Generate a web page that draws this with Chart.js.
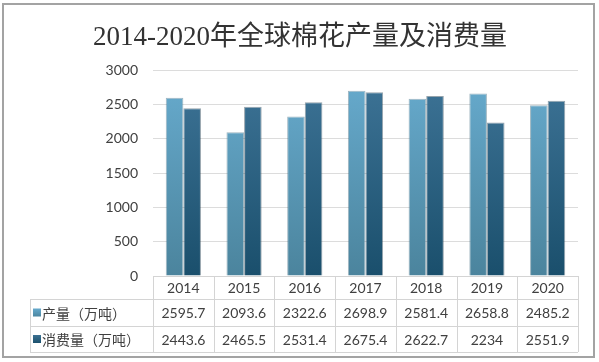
<!DOCTYPE html>
<html>
<head>
<meta charset="utf-8">
<script src="https://cdn.jsdelivr.net/npm/chart.js@4/dist/chart.umd.min.js"></script>
<style>
    body { margin: 0; background: #fff; }
    canvas { display: block; }
</style>
</head>
<body>
<canvas id="cottonChart" width="599" height="362"></canvas>
<script>
// data
const years = ["2014", "2015", "2016", "2017", "2018", "2019", "2020"];
const production = [2595.7, 2093.6, 2322.6, 2698.9, 2581.4, 2658.8, 2485.2];
const consumption = [2443.6, 2465.5, 2531.4, 2675.4, 2622.7, 2234, 2551.9];
const seriesNames = ["产量（万吨）", "消费量（万吨）"];
const yMax = 3000;
const yStep = 500;
const chartTitle = "2014-2020年全球棉花产量及消费量";

const textColor = "#404040";
const lineColor = "#d4d4d4";
const numFont = "Lato";

// vertical gradient for the bars
function barGradient(ctx, top, bottom) {
    const chart = ctx.chart;
    const area = chart.chartArea;
    if (!area) return top;
    const g = chart.ctx.createLinearGradient(0, area.top, 0, area.bottom);
    g.addColorStop(0, top);
    g.addColorStop(1, bottom);
    return g;
}

// title, outer frame and the data table under the bars
const tablePlugin = {
    id: "tablePlugin",
    afterDraw(chart) {
        const ctx = chart.ctx;
        const area = chart.chartArea;
        const n = years.length;
        const colW = (area.right - area.left) / n;
        const tableLeft = 30;
        const y0 = area.bottom;
        const y1 = y0 + 23;
        const y2 = y1 + 27;
        const y3 = y2 + 26;

        ctx.save();

        // outer frame
        ctx.strokeStyle = "#a3a3a3";
        ctx.lineWidth = 2;
        ctx.strokeRect(3, 4, 591, 353);

        // title
        ctx.fillStyle = "#333";
        ctx.font = "27px 'Liberation Serif', 'Noto Sans CJK SC', serif";
        ctx.textAlign = "center";
        ctx.textBaseline = "middle";
        ctx.fillText(chartTitle, 300, 38);

        // table lines
        ctx.strokeStyle = lineColor;
        ctx.lineWidth = 1;
        ctx.beginPath();
        ctx.moveTo(area.left, y0 + 0.5);
        ctx.lineTo(area.right, y0 + 0.5);
        [y1, y2, y3].forEach((y) => {
            ctx.moveTo(tableLeft, y + 0.5);
            ctx.lineTo(area.right, y + 0.5);
        });
        ctx.moveTo(tableLeft + 0.5, y1);
        ctx.lineTo(tableLeft + 0.5, y3);
        for (let i = 0; i <= n; i++) {
            const x = Math.round(area.left + i * colW) + 0.5;
            ctx.moveTo(x, y0);
            ctx.lineTo(x, y3);
        }
        ctx.stroke();

        // years and values
        ctx.fillStyle = textColor;
        ctx.font = "14px " + numFont + ", sans-serif";
        ctx.textAlign = "center";
        const xScale = chart.scales.x;
        years.forEach((year, i) => {
            const cx = xScale.getPixelForValue(i);
            ctx.fillText(year, cx, (y0 + y1) / 2 + 1);
            ctx.fillText(String(production[i]), cx, (y1 + y2) / 2 + 1);
            ctx.fillText(String(consumption[i]), cx, (y2 + y3) / 2 + 1);
        });

        // row labels with colour keys
        const keys = [["#66aacd", "#4c86a0"], ["#3c7192", "#1c516d"]];
        const rowMid = [(y1 + y2) / 2, (y2 + y3) / 2];
        seriesNames.forEach((name, i) => {
            const g = ctx.createLinearGradient(0, rowMid[i] - 4, 0, rowMid[i] + 4);
            g.addColorStop(0, keys[i][0]);
            g.addColorStop(1, keys[i][1]);
            ctx.fillStyle = g;
            ctx.fillRect(33, rowMid[i] - 4, 8, 8);
            ctx.fillStyle = textColor;
            ctx.font = "14px 'Noto Sans CJK SC', sans-serif";
            ctx.textAlign = "left";
            ctx.fillText(name, 42, rowMid[i] + 1);
        });

        ctx.restore();
    },
};

function drawChart() {
    new Chart(document.getElementById("cottonChart"), {
        type: "bar",
        data: {
            labels: years,
            datasets: [
                {
                    label: seriesNames[0],
                    data: production,
                    backgroundColor: (ctx) => barGradient(ctx, "#68accf", "#4b849d"),
                    borderColor: "rgba(40, 90, 115, 0.45)",
                    borderWidth: 1,
                },
                {
                    label: seriesNames[1],
                    data: consumption,
                    backgroundColor: (ctx) => barGradient(ctx, "#3f7598", "#1a4f6c"),
                    borderColor: "rgba(20, 50, 70, 0.45)",
                    borderWidth: 1,
                },
            ],
        },
        options: {
            responsive: false,
            animation: false,
            layout: {
                padding: { left: 0, top: 70, right: 21, bottom: 86 },
            },
            datasets: {
                bar: {
                    categoryPercentage: 0.58,
                    barPercentage: 1.0,
                },
            },
            scales: {
                x: {
                    display: false,
                },
                y: {
                    min: 0,
                    max: yMax,
                    afterFit: (scale) => {
                        scale.width = 153;
                    },
                    ticks: {
                        stepSize: yStep,
                        padding: 15,
                        color: textColor,
                        font: { family: numFont, size: 14 },
                        callback: (value) => String(value),
                    },
                    grid: {
                        color: "#dcdcdc",
                        drawTicks: false,
                    },
                    border: { display: false },
                },
            },
            plugins: {
                legend: { display: false },
                tooltip: { enabled: false },
            },
        },
        plugins: [tablePlugin],
    });
}

Promise.all([
    document.fonts.load("14px " + numFont),
    document.fonts.load("14px 'Noto Sans CJK SC'", "产量"),
    document.fonts.load("27px 'Liberation Serif'"),
]).then(drawChart, drawChart);
</script>
</body>
</html>
